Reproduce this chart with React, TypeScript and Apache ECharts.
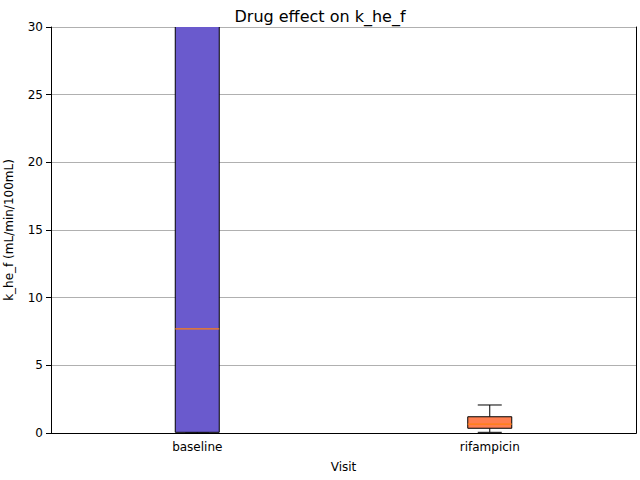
import React, { useEffect, useRef } from "react";
import * as echarts from "echarts";

const categories = ["baseline", "rifampicin"];
// [lowWhisker, q1, median, q3, highWhisker]
const stats = [
  [0, 0.05, 7.7, 40, 60],
  [0.05, 0.35, 0.66, 1.2, 2.07],
];
const colors = ["#6a5acd", "#ff7f50"];

export default function App() {
  const ref = useRef<HTMLDivElement>(null);
  useEffect(() => {
    const chart = echarts.init(ref.current!, null, { renderer: "svg" });
    const frameAxis = { show: true, lineStyle: { color: "#000" } };
    chart.setOption({
      animation: false,
      title: { text: "Drug effect on k_he_f", left: "center", top: 3, textStyle: { fontFamily: "DejaVu Sans", fontSize: 16, fontWeight: "normal", color: "#000" } },
      grid: { left: 51, right: 4, top: 27, bottom: 47, outerBoundsMode: "none", containLabel: false },
      xAxis: [{
        type: "category", data: categories, name: "Visit", nameLocation: "middle", nameGap: 28,
        nameTextStyle: { fontFamily: "DejaVu Sans", fontSize: 12, color: "#000" },
        axisLine: { lineStyle: { color: "#000" } }, axisTick: { alignWithLabel: true, lineStyle: { color: "#000" } },
        axisLabel: { fontFamily: "DejaVu Sans", fontSize: 12, color: "#000" },
      }, {
        type: "category", data: categories, position: "top", axisLine: frameAxis, axisTick: { show: false }, axisLabel: { show: false },
      }],
      yAxis: [{
        type: "value", min: 0, max: 30, interval: 5, name: "k_he_f (mL/min/100mL)", nameLocation: "middle", nameGap: 36,
        nameTextStyle: { fontFamily: "DejaVu Sans", fontSize: 12, color: "#000" },
        axisLine: frameAxis, axisTick: { show: true, lineStyle: { color: "#000" } },
        axisLabel: { fontFamily: "DejaVu Sans", fontSize: 12, color: "#000" },
        splitLine: { lineStyle: { color: "#b0b0b0" } },
      }, {
        type: "value", min: 0, max: 30, interval: 5, position: "right", axisLine: frameAxis, axisTick: { show: false }, axisLabel: { show: false }, splitLine: { show: false },
      }],
      series: [{
        type: "custom", clip: true,
        data: stats.map((s, i) => [i, ...s]),
        renderItem: (params: any, api: any) => {
          const i = api.value(0);
          const [lo, q1, med, q3, hi] = [1, 2, 3, 4, 5].map((k) => api.value(k));
          const x = api.coord([i, 0])[0];
          const y = (v: number) => api.coord([i, v])[1];
          const hw = 22, cw = 12;
          const stroke = { stroke: "#000", lineWidth: 1 };
          return {
            type: "group",
            children: [
              { type: "line", shape: { x1: x, y1: y(q3), x2: x, y2: y(hi) }, style: stroke },
              { type: "line", shape: { x1: x, y1: y(q1), x2: x, y2: y(lo) }, style: stroke },
              { type: "line", shape: { x1: x - cw, y1: y(hi), x2: x + cw, y2: y(hi) }, style: stroke },
              { type: "line", shape: { x1: x - cw, y1: y(lo), x2: x + cw, y2: y(lo) }, style: stroke },
              { type: "rect", shape: { x: x - hw, y: y(q3), width: 2 * hw, height: y(q1) - y(q3) }, style: { fill: colors[i], stroke: "#000", lineWidth: 1 } },
              { type: "line", shape: { x1: x - hw, y1: y(med), x2: x + hw, y2: y(med) }, style: { stroke: "#ff7f0e", lineWidth: 1.2 } },
            ],
          };
        },
      }],
    });
    return () => chart.dispose();
  }, []);
  return <div ref={ref} style={{ width: 640, height: 480, position: "absolute", left: 0, top: 0 }} />;
}
